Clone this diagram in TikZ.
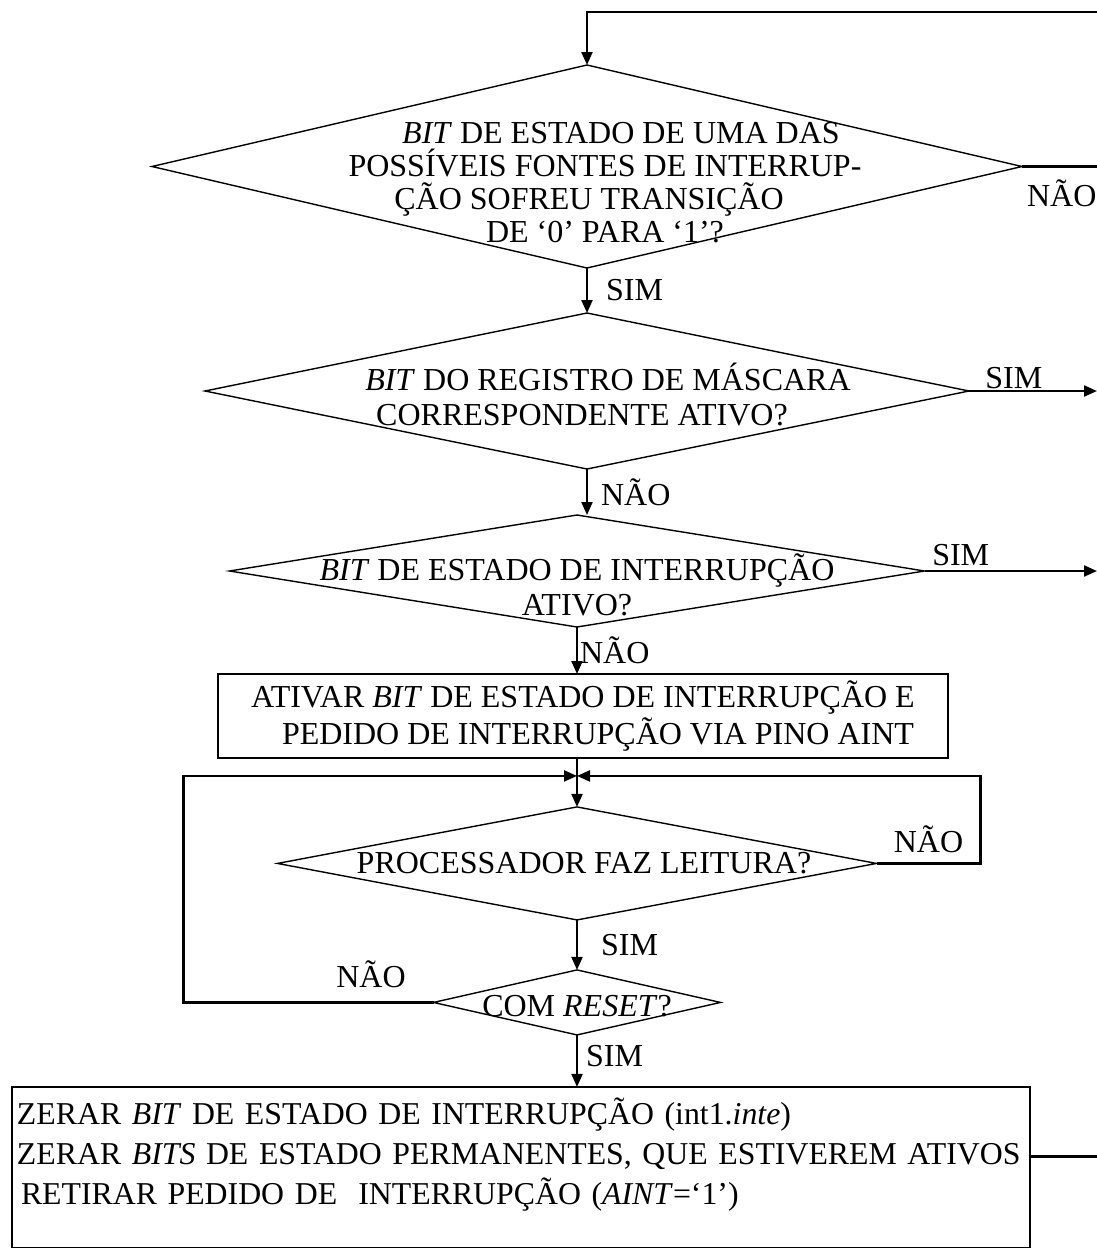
\documentclass[tikz,border=0pt]{standalone}
\usepackage{fontspec}
\setmainfont{Liberation Serif}
\usetikzlibrary{shapes.geometric, arrows.meta, positioning}

\begin{document}
\begin{tikzpicture}[
    x=0.5pt, y=-0.5pt,
    font=\fontsize{16}{17.5}\selectfont,
    decision/.style={diamond, draw, line width=0.7pt, inner sep=0pt, outer sep=0pt},
    block/.style={rectangle, draw, line width=0.7pt, outer sep=0pt, align=center},
    line/.style={draw, -{Triangle[length=6.5pt, width=5.5pt]}, line width=1.1pt},
    link/.style={draw, line width=1.1pt},
    tag/.style={inner sep=2pt}
]
    \useasboundingbox (0,0) rectangle (1097,1248);

    % right border, where the outgoing lines leave the picture
    \coordinate (rim) at (1097,0);
    \coordinate (top) at (1097,12);

    % Decisions
    \node [decision, minimum width=435pt, minimum height=101.5pt,
        label={[align=center, xshift=9pt, yshift=-8pt, font={\fontsize{16}{16.5}\selectfont}]center:\hspace*{16pt}\textit{BIT} DE ESTADO DE UMA DAS\\POSSÍVEIS FONTES DE INTERRUP-\\ÇÃO SOFREU TRANSIÇÃO\kern16pt\\DE ‘0’ PARA ‘1’?}] (fontes) at (587,166.5) {};
    \node [decision, below=22.5pt of fontes, minimum width=382pt, minimum height=78pt,
        label={[align=center, xshift=4pt, yshift=-2pt]center:\hspace*{13pt}\textit{BIT} DO REGISTRO DE MÁSCARA\\CORRESPONDENTE ATIVO?\kern13pt}] (mascara) {};
    \node [decision, below=23pt of mascara, xshift=-5pt, minimum width=347.5pt, minimum height=56pt,
        label={[align=center, yshift=-7pt]center:\textit{BIT} DE ESTADO DE INTERRUPÇÃO\\ATIVO?}] (estado) {};

    % Interrupt request
    \node [block, below=23.5pt of estado, xshift=3pt, minimum width=365pt, minimum height=39.5pt,
        font={\fontsize{16}{18.5}\selectfont}] (ativar) {ATIVAR \textit{BIT} DE ESTADO DE INTERRUPÇÃO E\\\hspace*{15pt}PEDIDO DE INTERRUPÇÃO VIA PINO AINT};
    \path (estado.south |- ativar.south) ++(0,-9pt) coordinate (join);

    % Read loop
    \node [decision, below=24.5pt of ativar, xshift=-3pt, minimum width=299.5pt, minimum height=56.5pt,
        label={[xshift=3.5pt]center:PROCESSADOR FAZ LEITURA?}] (leitura) {};
    \node [decision, below=25pt of leitura, minimum width=143.5pt, minimum height=32.5pt,
        label={[yshift=-2pt]center:COM \textit{RESET}?}] (reset) {};

    % Clearing
    \node [block, below=26pt of reset, xshift=-28pt, minimum width=509pt, minimum height=80.5pt,
        align=left, text width=504pt, inner xsep=2.5pt, font={\fontsize{15.9}{20}\selectfont}] (zerar)
        {ZERAR \textit{BIT} DE ESTADO DE INTERRUPÇÃO (int1.\textit{inte})\\ZERAR \textit{BITS} DE ESTADO PERMANENTES, QUE ESTIVEREM ATIVOS\\\hspace*{2pt}RETIRAR PEDIDO DE \ INTERRUPÇÃO (\textit{AINT}=‘1’)\\[-4pt]\mbox{}};

    % Connections
    \path [line] (top) -| (fontes.north);
    \path [link] (fontes.east) -- node [tag, pos=0, anchor=north west, yshift=-4pt] {NÃO} (fontes.east -| rim);
    \path [line] (fontes.south) -- node [tag, right, xshift=7pt] {SIM} (mascara.north);

    \path [line] (mascara.east) -- node [above, pos=0.35, inner sep=0.5pt] {SIM} (mascara.east -| rim);
    \path [line] (mascara.south) -- node [tag, right, xshift=4.5pt] {NÃO} (mascara.south |- estado.north);

    \path [line] (estado.east) -- node [tag, above, pos=0.21] {SIM} (estado.east -| rim);
    \path [line] (estado.south) -- node [right, inner sep=1pt] {NÃO} (estado.south |- ativar.north);

    \path [link] (ativar.south -| join) -- (join);
    \path [line] (join) -- (leitura.north);

    \path [line] (leitura.east) -- node [tag, above, yshift=3pt] {NÃO} ++(52pt,0) |- (join);
    \path [line] (leitura.south) -- node [tag, right, xshift=9.5pt] {SIM} (reset.north);

    \path [line] (reset.west) -- node [tag, above, pos=0.25, yshift=5pt] {NÃO} ++(-125pt,0) |- (join);
    \path [line] (reset.south) -- node [tag, right, xshift=2pt, pos=0.4] {SIM} (reset.south |- zerar.north);

    \path [link] ([yshift=5.5pt]zerar.east) -- ([yshift=5.5pt]zerar.east -| rim);

\end{tikzpicture}
\end{document}
